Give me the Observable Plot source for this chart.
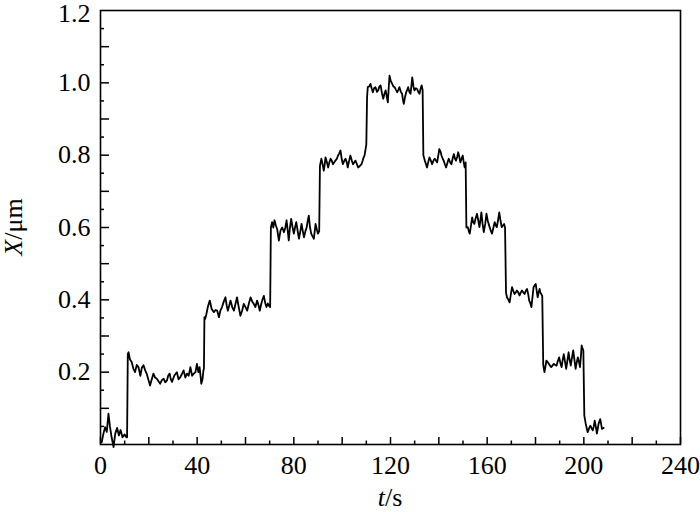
<!DOCTYPE html>
<html><head><meta charset="utf-8">
<script src="https://cdn.jsdelivr.net/npm/d3@7"></script>
<script src="https://cdn.jsdelivr.net/npm/@observablehq/plot@0.6"></script>
<style>
body{margin:0;background:#fff;}
svg text{font-family:"Liberation Serif","Times New Roman",serif !important;}
</style>
</head><body><div id="chart"></div>
<script>
// time (s) and displacement X (µm)
const time = [
 0.5,1.2,1.9,2.6,3.3,3.9,4.6,5.4,6.1,6.9,7.6,8.3,9.1,10.0,10.7,11.0,11.3,11.6,
 12.2,12.9,13.6,14.3,15.0,15.7,16.5,17.1,17.8,18.5,19.1,19.8,20.5,21.2,21.9,22.6,23.3,24.0,24.7,25.4,26.1,26.8,27.5,28.0,28.6,29.1,29.6,30.5,31.6,32.3,33.0,33.7,34.4,35.1,35.8,36.5,37.2,37.9,38.6,39.3,39.9,40.5,41.0,41.4,41.7,42.2,42.6,42.8,43.0,
 43.3,43.8,44.4,45.2,46.0,46.9,47.6,48.3,49.0,49.6,50.3,51.0,51.7,52.2,52.7,53.3,53.8,54.5,55.2,55.9,56.5,57.2,57.9,58.6,59.3,60.0,60.7,61.4,62.1,62.8,63.4,64.1,64.8,65.4,65.9,66.4,66.9,67.6,68.2,68.7,69.2,69.7,70.2,70.5,71.0,
 71.5,72.0,72.6,73.1,73.8,74.5,75.2,75.9,76.5,77.0,77.5,77.9,78.4,78.9,79.5,80.0,80.5,81.0,81.6,82.1,82.7,83.2,83.7,84.2,84.8,85.3,85.8,86.2,86.7,87.2,87.8,88.3,89.0,89.5,90.0,90.5,90.8,91.4,
 91.9,92.4,92.8,93.1,93.7,94.2,94.7,95.2,95.7,96.2,96.7,97.2,97.8,98.3,98.8,99.3,99.8,100.3,100.9,101.4,101.9,102.3,102.9,103.4,104.0,104.5,105.0,105.5,106.1,106.6,107.3,108.0,108.5,108.9,109.3,109.6,110.0,110.3,110.6,
 111.2,111.7,112.2,112.7,113.2,113.8,114.4,114.9,115.4,115.9,116.5,117.0,117.5,118.0,118.5,118.9,119.3,119.6,120.1,120.7,121.2,121.7,122.3,122.8,123.2,123.7,124.3,124.8,125.1,125.5,126.0,126.5,126.9,127.3,127.8,128.3,128.7,129.0,129.5,129.9,130.5,131.0,131.5,132.0,132.5,132.9,133.3,133.6,134.2,
 134.7,135.1,135.6,136.1,136.7,137.2,137.8,138.3,138.8,139.3,139.8,140.2,140.7,141.1,141.6,142.0,142.5,143.0,143.6,144.1,144.7,145.2,145.7,146.2,146.7,147.1,147.6,148.0,148.5,148.9,149.4,149.9,150.3,150.7,151.1,151.4,152.0,
 152.4,152.8,153.3,153.8,154.2,154.7,155.2,155.8,156.3,156.8,157.2,157.6,158.1,158.6,159.2,159.7,160.2,160.6,161.3,162.0,162.6,163.1,163.6,164.0,164.5,165.0,165.5,166.0,166.5,167.0,167.4,167.8,168.2,
 168.8,169.3,169.8,170.3,170.8,171.3,171.8,172.3,172.9,173.4,173.9,174.4,175.0,175.5,176.0,176.5,177.0,177.4,177.9,178.3,178.8,179.2,179.7,180.1,180.5,180.9,181.3,181.7,182.0,182.4,182.8,183.2,183.7,
 184.1,184.5,185.0,185.5,186.0,186.5,187.0,187.6,188.1,188.7,189.2,189.8,190.3,190.8,191.2,191.7,192.2,192.7,193.2,193.7,194.1,194.6,195.1,195.6,196.1,196.6,197.0,197.5,198.0,198.4,198.8,199.1,199.5,199.8,200.2,200.8,
 201.2,201.6,202.2,202.7,203.2,203.7,204.1,204.5,205.0,205.4,205.8,206.1,206.5,206.8,207.2,207.5,207.9,208.2
];
const disp = [
 0.006,0.03,0.048,0.035,0.085,0.05,0.02,-0.007,0.03,0.046,0.025,0.04,0.02,0.028,0.02,0.02,0.25,0.255,
 0.235,0.228,0.21,0.2,0.22,0.214,0.19,0.212,0.219,0.205,0.196,0.18,0.163,0.18,0.196,0.185,0.182,0.175,0.168,0.178,0.182,0.172,0.177,0.19,0.196,0.18,0.173,0.19,0.2,0.18,0.186,0.195,0.205,0.185,0.196,0.19,0.214,0.19,0.196,0.2,0.223,0.2,0.214,0.19,0.168,0.18,0.205,0.21,0.352,
 0.347,0.36,0.38,0.398,0.375,0.366,0.372,0.37,0.352,0.37,0.38,0.395,0.407,0.385,0.37,0.385,0.398,0.38,0.37,0.39,0.407,0.38,0.356,0.37,0.389,0.38,0.37,0.39,0.407,0.395,0.389,0.38,0.398,0.385,0.37,0.385,0.398,0.411,0.39,0.38,0.39,0.384,0.38,0.6,0.615,
 0.6,0.62,0.605,0.596,0.564,0.592,0.6,0.587,0.6,0.62,0.59,0.564,0.6,0.624,0.6,0.583,0.6,0.615,0.59,0.569,0.59,0.61,0.59,0.573,0.59,0.6,0.62,0.633,0.6,0.583,0.575,0.569,0.61,0.595,0.583,0.59,0.77,0.79,
 0.775,0.757,0.775,0.794,0.78,0.766,0.78,0.79,0.785,0.775,0.78,0.785,0.79,0.799,0.805,0.813,0.79,0.775,0.785,0.79,0.78,0.766,0.785,0.799,0.785,0.775,0.78,0.785,0.775,0.766,0.77,0.775,0.785,0.794,0.8,0.813,0.83,0.96,0.988,
 0.99,0.997,0.985,0.974,0.985,0.988,0.975,0.979,0.99,0.993,0.97,0.956,0.97,0.979,0.96,0.946,0.99,1.02,1.005,0.997,0.99,0.988,0.98,0.974,0.98,0.988,0.975,0.97,0.955,0.942,0.96,0.974,0.98,0.988,0.975,0.97,0.995,1.015,0.99,0.979,0.985,0.983,0.975,0.97,0.985,0.993,0.98,0.8,0.785,
 0.775,0.766,0.78,0.794,0.785,0.775,0.785,0.79,0.785,0.78,0.8,0.817,0.81,0.799,0.79,0.785,0.775,0.766,0.78,0.79,0.78,0.775,0.79,0.803,0.79,0.785,0.795,0.808,0.795,0.78,0.79,0.799,0.78,0.766,0.78,0.6,0.601,
 0.59,0.583,0.605,0.628,0.615,0.61,0.625,0.638,0.62,0.601,0.62,0.642,0.61,0.587,0.61,0.638,0.62,0.61,0.595,0.583,0.6,0.615,0.605,0.601,0.62,0.642,0.62,0.601,0.605,0.61,0.6,0.42,0.407,
 0.4,0.393,0.415,0.435,0.425,0.416,0.42,0.426,0.42,0.412,0.42,0.426,0.42,0.416,0.425,0.43,0.415,0.398,0.39,0.38,0.41,0.435,0.44,0.444,0.425,0.407,0.42,0.43,0.42,0.416,0.41,0.22,0.2,
 0.215,0.232,0.228,0.223,0.218,0.214,0.218,0.223,0.22,0.218,0.23,0.241,0.225,0.214,0.232,0.25,0.23,0.209,0.232,0.255,0.235,0.218,0.24,0.26,0.235,0.209,0.225,0.241,0.228,0.214,0.245,0.274,0.265,0.26,0.08,0.057,
 0.045,0.034,0.045,0.052,0.045,0.039,0.05,0.066,0.048,0.03,0.045,0.057,0.065,0.07,0.055,0.043,0.045,0.046
];
const xTickLabels = [0, 40, 80, 120, 160, 200, 240];
const yTickLabels = [0.2, 0.4, 0.6, 0.8, 1.0, 1.2];

const W = 700, H = 512, mL = 100, mR = 20, mT = 10, mB = 68;
const fw = W - mL - mR, fh = H - mT - mB;
const data = time.map((t, i) => ({t, x: disp[i]}));
const xMajor = d3.range(0, 13).map(i => i * 20);
const xMinor = d3.range(0, 12).map(i => i * 20 + 10);
const yMajor = d3.range(1, 12).map(i => i / 10);
const yMinor = d3.range(0, 12).map(i => i / 10 + 0.05);
const font = "Liberation Serif";

const plot = Plot.plot({
  width: W, height: H,
  marginLeft: mL, marginRight: mR, marginTop: mT, marginBottom: mB,
  x: {domain: [0, 240]},
  y: {domain: [0, 1.2]},
  style: {fontFamily: font, fontSize: "26px", color: "black", background: "white", overflow: "visible"},
  marks: [
    Plot.ruleX(xMajor, {x: d => d, insetTop: fh - 7, stroke: "black", strokeWidth: 1.5}),
    Plot.ruleX(xMinor, {x: d => d, insetTop: fh - 3.5, stroke: "black", strokeWidth: 1.5}),
    Plot.ruleY(yMajor, {y: d => d, insetRight: fw - 9, stroke: "black", strokeWidth: 1.5}),
    Plot.ruleY(yMinor, {y: d => d, insetRight: fw - 4, stroke: "black", strokeWidth: 1.5}),
    Plot.line(data, {x: "t", y: "x", stroke: "black", strokeWidth: 1.8}),
    Plot.frame({stroke: "black", strokeWidth: 1.6}),
    Plot.axisX({ticks: xTickLabels, tickSize: 0, tickPadding: 11, tickFormat: d => String(d), label: null, fontSize: 26}),
    Plot.axisY({ticks: yTickLabels, tickSize: 0, tickPadding: 10, tickFormat: d3.format(".1f"), label: null, fontSize: 26})
  ]
});

const svg = d3.select(plot);
// top label sits slightly lower in the reference so it is not clipped
svg.selectAll("text").filter(function () { return this.textContent === "1.2"; })
  .each(function () { this.setAttribute("transform", (this.getAttribute("transform") || "") + " translate(0,3)"); });
const xl = svg.append("text").attr("x", mL + fw / 2).attr("y", 506)
  .attr("text-anchor", "middle").attr("font-size", 26).attr("fill", "black");
xl.append("tspan").attr("font-style", "italic").text("t");
xl.append("tspan").text("/s");
const yl = svg.append("text").attr("transform", `translate(22,${mT + fh / 2}) rotate(-90)`)
  .attr("text-anchor", "middle").attr("font-size", 26).attr("fill", "black");
yl.append("tspan").attr("font-style", "italic").text("X");
yl.append("tspan").text("/μm");

document.getElementById("chart").appendChild(plot);
</script>
</body></html>
